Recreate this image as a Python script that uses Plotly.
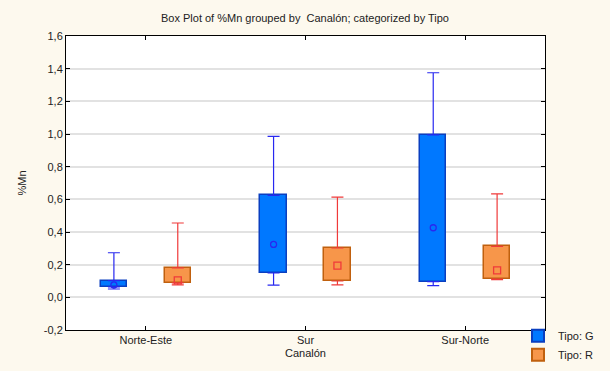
import plotly.graph_objects as go

# Canalón groups and box statistics of %Mn per Tipo
canales = ["Norte-Este", "Sur", "Sur-Norte"]

g_min = [0.051, 0.075, 0.072]
g_q1 = [0.064, 0.149, 0.096]
g_center = [0.076, 0.324, 0.426]
g_q3 = [0.102, 0.624, 0.995]
g_max = [0.273, 0.985, 1.375]

r_min = [0.076, 0.076, 0.108]
r_q1 = [0.088, 0.100, 0.112]
r_center = [0.104, 0.194, 0.165]
r_q3 = [0.180, 0.302, 0.312]
r_max = [0.455, 0.614, 0.633]

y_ticks = [-0.2, 0.0, 0.2, 0.4, 0.6, 0.8, 1.0, 1.2, 1.4, 1.6]
y_ticktext = [f"{v:.1f}".replace(".", ",") for v in y_ticks]

OFFSET = 0.2
BOX_W = 0.165

series = [
    dict(name="Tipo: G", lo=g_min, q1=g_q1, c=g_center, q3=g_q3, hi=g_max, shift=-OFFSET,
         fill="#0078FF", edge="#0A3FC0", whisk="#2828F0", sym="circle-open", msize=6),
    dict(name="Tipo: R", lo=r_min, q1=r_q1, c=r_center, q3=r_q3, hi=r_max, shift=OFFSET,
         fill="#F7964A", edge="#C0600E", whisk="#F03A3A", sym="square-open", msize=7),
]

fig = go.Figure()

for s in series:
    xs = [i + s["shift"] for i in range(len(canales))]
    # interquartile box
    fig.add_trace(go.Bar(
        x=xs, base=s["q1"], y=[b - a for a, b in zip(s["q1"], s["q3"])],
        width=BOX_W, name=s["name"],
        marker=dict(color=s["fill"], line=dict(color=s["edge"], width=1.5)),
        showlegend=True,
    ))

for s in series:
    xs = [i + s["shift"] for i in range(len(canales))]
    # upper whisker from box top
    fig.add_trace(go.Scatter(
        x=xs, y=s["q3"], mode="markers", marker=dict(size=1, opacity=0),
        error_y=dict(type="data", symmetric=False,
                     array=[h - q for h, q in zip(s["hi"], s["q3"])],
                     arrayminus=[0] * len(xs),
                     color=s["whisk"], thickness=1.2, width=6),
        showlegend=False, hoverinfo="skip",
    ))
    # lower whisker from box bottom
    fig.add_trace(go.Scatter(
        x=xs, y=s["q1"], mode="markers", marker=dict(size=1, opacity=0),
        error_y=dict(type="data", symmetric=False,
                     array=[0] * len(xs),
                     arrayminus=[q - l for q, l in zip(s["q1"], s["lo"])],
                     color=s["whisk"], thickness=1.2, width=6),
        showlegend=False, hoverinfo="skip",
    ))
    # center point
    fig.add_trace(go.Scatter(
        x=xs, y=s["c"], mode="markers",
        marker=dict(symbol=s["sym"], size=s["msize"], color=s["whisk"],
                    line=dict(width=1.3, color=s["whisk"])),
        showlegend=False,
    ))

axis_font = dict(family="Liberation Sans, Arial, sans-serif", size=11, color="#222222")

fig.update_layout(
    width=610, height=371,
    margin=dict(l=66, r=65, t=36, b=41, autoexpand=False),
    paper_bgcolor="#FDF9EE",
    plot_bgcolor="#FFFFFF",
    font=axis_font,
    title=dict(text="Box Plot of %Mn grouped by  Canalón; categorized by Tipo",
               x=0.5, xanchor="center", y=1 - 18 / 371, yanchor="middle",
               font=dict(family="Liberation Sans, Arial, sans-serif", size=11, color="#222222")),
    barmode="overlay",
    bargap=0,
    legend=dict(x=(518 - 66) / 479, xanchor="left", y=0.03, yanchor="top",
                bgcolor="rgba(0,0,0,0)", font=dict(size=11, color="#222222"),
                tracegroupgap=0, itemsizing="constant"),
    showlegend=True,
)

fig.update_xaxes(
    range=[-0.5, 2.5], tickmode="array", tickvals=list(range(len(canales))), ticktext=canales,
    showgrid=False, zeroline=False, showline=True, linecolor="#000000", linewidth=1, mirror="ticks",
    ticks="inside", ticklen=4, tickcolor="#000000", automargin=False,
    title=dict(text="Canalón", standoff=4, font=dict(size=11)),
)
fig.update_yaxes(
    range=[-0.2, 1.6], tickmode="array", tickvals=y_ticks, ticktext=y_ticktext,
    showgrid=True, gridcolor="#E2E2E2", gridwidth=1.5, zeroline=False,
    showline=True, linecolor="#000000", linewidth=1, mirror="ticks",
    ticks="inside", ticklen=4, tickcolor="#000000", automargin=False,
    title=dict(text="%Mn", standoff=14, font=dict(size=11)),
)

fig.write_html("out.html")
